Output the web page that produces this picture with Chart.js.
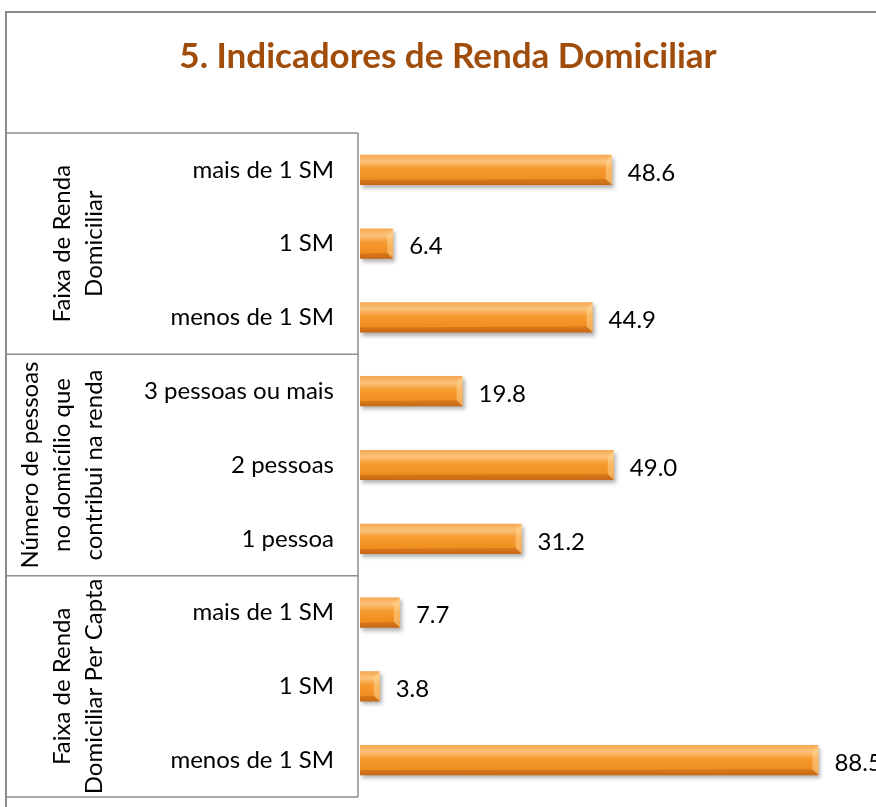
<!DOCTYPE html>
<html><head><meta charset="utf-8">
<script src="https://cdn.jsdelivr.net/npm/chart.js@4/dist/chart.umd.min.js"></script>
<style>html,body{margin:0;padding:0;background:#fff;overflow:hidden;width:876px;height:807px}
#wrap{position:relative;width:878px;height:807px}</style>
</head><body><div id="wrap"><canvas id="c" width="878" height="807"></canvas></div>
<script>
const titleText = "5. Indicadores de Renda Domiciliar";
const categories = ["mais de 1 SM","1 SM","menos de 1 SM","3 pessoas ou mais","2 pessoas","1 pessoa","mais de 1 SM","1 SM","menos de 1 SM"];
const values = [48.6, 6.4, 44.9, 19.8, 49.0, 31.2, 7.7, 3.8, 88.5];
const groupLabels = [["Faixa de Renda","Domiciliar"],["Número de pessoas","no domicílio que","contribui na renda"],["Faixa de Renda","Domiciliar Per Capta"]];
const groupSizes = [3,3,3];

const FONT = "Lato, 'Open Sans', sans-serif";

const tablePlugin = {
  id:'table',
  afterDraw(chart){
    const ctx = chart.ctx, y = chart.scales.y, area = chart.chartArea;
    ctx.save();
    ctx.strokeStyle = '#8c8c8c'; ctx.lineWidth = 2;
    ctx.beginPath(); ctx.moveTo(6, 807); ctx.lineTo(6, 12); ctx.lineTo(878, 12); ctx.stroke();
    ctx.fillStyle = '#A04C0A';
    ctx.font = "bold 35px " + FONT;
    ctx.textAlign = 'center'; ctx.textBaseline = 'middle';
    ctx.fillText(titleText, 448, 57);
    const half = (y.getPixelForValue(1) - y.getPixelForValue(0)) / 2;
    let idx = 0;
    const xr = area.left - 2;
    ctx.strokeStyle = '#8c8c8c'; ctx.lineWidth = 1.5;
    ctx.beginPath();
    ctx.moveTo(xr, area.top); ctx.lineTo(xr, area.bottom);
    ctx.stroke();
    groupSizes.forEach((n, g) => {
      const top = y.getPixelForValue(idx) - half;
      const bot = y.getPixelForValue(idx + n - 1) + half;
      ctx.beginPath(); ctx.moveTo(6, top); ctx.lineTo(xr, top); ctx.stroke();
      if (g === groupSizes.length - 1) { ctx.beginPath(); ctx.moveTo(6, bot); ctx.lineTo(xr, bot); ctx.stroke(); }
      const lines = groupLabels[g];
      const cx = 78, cy = (top + bot) / 2, lh = 32;
      ctx.save();
      ctx.translate(cx, cy); ctx.rotate(-Math.PI/2);
      ctx.fillStyle = '#000'; ctx.font = "24px " + FONT;
      ctx.textAlign = 'center'; ctx.textBaseline = 'middle';
      lines.forEach((t, i) => {
        const off = (i - (lines.length - 1) / 2) * lh + (lines.length === 2 ? 0 : -16);
        ctx.fillText(t, 0, off);
      });
      ctx.restore();
      idx += n;
    });
    const meta = chart.getDatasetMeta(0);
    ctx.fillStyle = '#000'; ctx.font = "24px " + FONT;
    ctx.textAlign = 'left'; ctx.textBaseline = 'middle';
    meta.data.forEach((el, i) => {
      ctx.fillText(values[i].toFixed(1), el.x + 16, el.y + 3);
    });
    ctx.restore();
  }
};

const shadowPlugin = {
  id:'shadow',
  beforeDatasetDraw(chart){ const c = chart.ctx; c.save(); c.shadowColor='rgba(0,0,0,0.3)'; c.shadowBlur=4; c.shadowOffsetX=2; c.shadowOffsetY=3; },
  afterDatasetDraw(chart){
    chart.ctx.restore();
    const ctx = chart.ctx;
    const meta = chart.getDatasetMeta(0);
    ctx.save();
    meta.data.forEach(el => {
      const t = el.y - el.height/2, b = el.y + el.height/2, l = el.base, r = el.x;
      ctx.fillStyle = 'rgba(255,215,150,0.5)';
      ctx.beginPath(); ctx.moveTo(r-6,t+6); ctx.lineTo(r,t); ctx.lineTo(r,b); ctx.lineTo(r-6,b-6); ctx.closePath(); ctx.fill();
      ctx.fillStyle = 'rgba(170,80,10,0.3)';
      ctx.beginPath(); ctx.moveTo(r-6,b-6); ctx.lineTo(r,b); ctx.lineTo(l,b); ctx.lineTo(l,b-5); ctx.closePath(); ctx.fill();
    });
    ctx.restore();
  }
};

new Chart(document.getElementById('c'), {
  type:'bar',
  data:{ labels: categories, datasets:[{ data: values,
    backgroundColor(c){
      const ch = c.chart, sy = ch.scales && ch.scales.y;
      if (!sy || isNaN(sy.getPixelForValue(0))) return '#F2921F';
      const yc = sy.getPixelForValue(c.dataIndex);
      const g = ch.ctx.createLinearGradient(0, yc-15, 0, yc+15);
      g.addColorStop(0,'#F6A850'); g.addColorStop(0.22,'#FBC27C'); g.addColorStop(0.45,'#F69B30');
      g.addColorStop(0.8,'#F08E20'); g.addColorStop(1,'#D5741E');
      return g;
    },
    borderWidth:0, barPercentage:0.82, categoryPercentage:0.5 }]},
  options:{
    indexAxis:'y', responsive:false, animation:false,
    layout:{ padding:{ top:133, bottom:10, left:0, right:0 } },
    plugins:{ legend:{display:false}, tooltip:{enabled:false}, title:{display:false} },
    scales:{
      x:{ display:false, min:0, max:100 },
      y:{ grid:{display:false, drawTicks:false}, border:{display:false},
          ticks:{ color:'#000', font:{ family:FONT, size:24 }, padding:26 },
          afterFit(s){ s.width = 360; s.paddingTop = 0; s.paddingBottom = 0; } }
    }
  },
  plugins:[shadowPlugin, tablePlugin]
});
</script></body></html>
